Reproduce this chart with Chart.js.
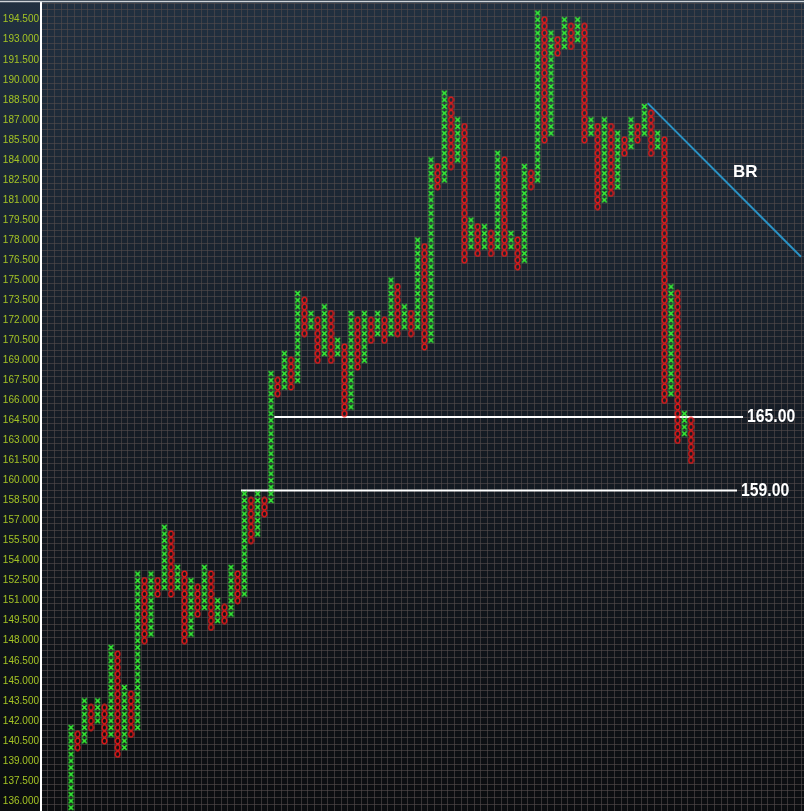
<!DOCTYPE html>
<html>
<head>
<meta charset="utf-8">
<script src="https://cdn.jsdelivr.net/npm/chart.js@4"></script>
<style>
  html, body { margin: 0; padding: 0; background: #0c0f13; }
  #pf { display: block; }
</style>
</head>
<body>
<canvas id="pf" width="804" height="811"></canvas>
<script>
// Point & figure columns (box size 0.5) left to right
const colTypes = [
    'X','O','X','O','X','O','X','O','X','O',
    'X','O','X','O','X','O','X','O','X','O',
    'X','O','X','O','X','O','X','O','X','O',
    'X','O','X','O','X','O','X','O','X','O',
    'X','O','X','O','X','O','X','O','X','O',
    'X','O','X','O','X','O','X','O','X','O',
    'X','O','X','O','X','O','X','O','X','O',
    'X','O','X','O','X','O','X','O','X','O',
    'X','O','X','O','X','O','X','O','X','O',
    'X','O','X','O'
];
const colHigh = [
    141.5, 141, 143.5, 143, 143.5, 143, 147.5, 147, 144.5, 144,
    153, 152.5, 153, 152.5, 156.5, 156, 153.5, 153, 152.5, 152,
    153.5, 153, 151, 150.5, 153.5, 153, 159, 158.5, 159, 158.5,
    168, 167.5, 169.5, 169, 174, 173.5, 172.5, 172, 173, 172.5,
    170.5, 170, 172.5, 172, 172.5, 172, 172.5, 172, 175, 174.5,
    173, 172.5, 178, 177.5, 184, 183.5, 189, 188.5, 187, 186.5,
    179.5, 179, 179, 178.5, 184.5, 184, 178.5, 178, 183.5, 183,
    195, 194.5, 193.5, 193, 194.5, 194, 194.5, 194, 187, 186.5,
    187, 186.5, 186, 185.5, 187, 186.5, 188, 187.5, 186, 185.5,
    174.5, 174, 165, 164.5
];
const colLow = [
    135.5, 140, 140.5, 141.5, 142, 140.5, 141, 139.5, 140, 141,
    141.5, 148, 148.5, 151.5, 152, 151.5, 152, 148, 148.5, 150,
    150.5, 149, 149.5, 149.5, 150, 151, 151.5, 155.5, 156, 157.5,
    158.5, 166.5, 167, 167, 167.5, 171, 171.5, 169, 169.5, 169,
    169.5, 165, 165.5, 168.5, 169, 170.5, 171, 170.5, 171, 171,
    171.5, 171, 171.5, 170, 170.5, 182, 182.5, 183.5, 184, 176.5,
    177.5, 177, 177.5, 177, 177.5, 177, 177.5, 176, 176.5, 182,
    182.5, 185.5, 186, 192, 192.5, 192.5, 193, 185.5, 186, 180.5,
    181, 181.5, 182, 184.5, 185, 185.5, 186, 184.5, 185, 166,
    166.5, 163, 163.5, 161.5
];
const boxSize = 0.5;

// price axis labels
const priceTicks = [
    136, 137.5, 139, 140.5, 142, 143.5, 145, 146.5, 148, 149.5,
    151, 152.5, 154, 155.5, 157, 158.5, 160, 161.5, 163, 164.5,
    166, 167.5, 169, 170.5, 172, 173.5, 175, 176.5, 178, 179.5,
    181, 182.5, 184, 185.5, 187, 188.5, 190, 191.5, 193, 194.5
];

// horizontal levels drawn on the chart
const levelY = [164.75, 159.25];
const levelText = ['165.00', '159.00'];
const levelFrom = [31.5, 26.5];
const levelTo = [101.8, 100.9];

// BR trendline (45 degree, one box per column)
const trendX = [87.5, 110.5];
const trendY = [188.25, 176.75];

const X_MIN = -3.5, X_MAX = 110.95;
const Y_MIN = 135.25, Y_MAX = 195.75;

// build the box points
const xPts = [];
const oPts = [];
colTypes.forEach((t, i) => {
    for (let v = colLow[i]; v <= colHigh[i] + 1e-9; v += boxSize) {
        const p = { x: i + 1, y: v };
        if (t === 'X') xPts.push(p); else oPts.push(p);
    }
});

// glyphs
function makeX() {
    const c = document.createElement('canvas');
    c.width = 7; c.height = 7;
    const g = c.getContext('2d');
    g.strokeStyle = '#36ee36';
    g.lineWidth = 1.5;
    g.beginPath();
    g.moveTo(1.1, 1.1); g.lineTo(5.9, 5.9);
    g.moveTo(5.9, 1.1); g.lineTo(1.1, 5.9);
    g.stroke();
    return c;
}
function makeO() {
    const c = document.createElement('canvas');
    c.width = 7; c.height = 8;
    const g = c.getContext('2d');
    g.strokeStyle = '#f41818';
    g.lineWidth = 1.4;
    g.beginPath();
    g.ellipse(3.5, 4, 2.3, 2.9, 0, 0, Math.PI * 2);
    g.stroke();
    return c;
}

function boundaries(min, max, step) {
    const out = [];
    for (let v = min; v <= max + 1e-9; v += step) out.push({ value: v });
    return out;
}

const bgPlugin = {
    id: 'bg',
    beforeDraw(chart) {
        const ctx = chart.ctx;
        const g = ctx.createLinearGradient(0, 0, 0, chart.height);
        g.addColorStop(0, '#213040');
        g.addColorStop(0.5, '#161d26');
        g.addColorStop(1, '#0b0d10');
        ctx.save();
        ctx.fillStyle = g;
        ctx.fillRect(0, 0, chart.width, chart.height);
        ctx.restore();
    },
    afterDraw(chart) {
        const ctx = chart.ctx;
        ctx.save();
        ctx.strokeStyle = '#cfd4d8';
        ctx.lineWidth = 1.5;
        ctx.beginPath();
        ctx.moveTo(0, 1.5);
        ctx.lineTo(chart.width, 1.5);
        ctx.stroke();
        ctx.restore();
    }
};

const textPlugin = {
    id: 'texts',
    afterDatasetsDraw(chart) {
        const ctx = chart.ctx;
        const xs = chart.scales.x, ys = chart.scales.y;
        ctx.save();
        ctx.fillStyle = '#ffffff';
        ctx.textBaseline = 'middle';
        ctx.textAlign = 'left';
        ctx.font = "bold 19px 'Liberation Sans', Arial, sans-serif";
        levelY.forEach((v, i) => {
            const px = xs.getPixelForValue(levelTo[i]) + 4;
            const py = ys.getPixelForValue(v);
            ctx.save();
            ctx.translate(px, py);
            ctx.scale(0.83, 1);
            ctx.fillText(levelText[i], 0, 0);
            ctx.restore();
        });
        ctx.font = "bold 17px 'Liberation Sans', Arial, sans-serif";
        ctx.fillText('BR', xs.getPixelForValue(100.3), ys.getPixelForValue(183.1));
        ctx.restore();
    }
};

const datasets = [
    {
        type: 'scatter',
        data: xPts,
        pointStyle: makeX(),
        pointRadius: 3,
        showLine: false
    },
    {
        type: 'scatter',
        data: oPts,
        pointStyle: makeO(),
        pointRadius: 3,
        showLine: false
    }
];
levelY.forEach((v, i) => {
    datasets.push({
        type: 'line',
        data: [{ x: levelFrom[i], y: v }, { x: levelTo[i], y: v }],
        borderColor: '#ffffff',
        borderWidth: 2,
        pointRadius: 0
    });
});
datasets.push({
    type: 'line',
    data: trendX.map((x, i) => ({ x: x, y: trendY[i] })),
    borderColor: '#2a92c4',
    borderWidth: 2,
    pointRadius: 0
});

const gridColor = 'rgba(84, 76, 76, 0.62)';

new Chart(document.getElementById('pf'), {
    type: 'scatter',
    data: { datasets: datasets },
    options: {
        responsive: false,
        animation: false,
        devicePixelRatio: 1,
        layout: { autoPadding: false, padding: { top: 3, right: 0, bottom: 0, left: 0 } },
        plugins: {
            legend: { display: false },
            tooltip: { enabled: false }
        },
        scales: {
            x: {
                type: 'linear',
                min: X_MIN,
                max: X_MAX,
                afterBuildTicks: s => { s.ticks = boundaries(X_MIN, X_MAX, 1); },
                afterFit: s => { s.height = 0; s.paddingLeft = 0; s.paddingRight = 0; },
                ticks: { display: false },
                grid: { color: gridColor, lineWidth: 1, drawTicks: false },
                border: { display: false }
            },
            y: {
                type: 'linear',
                position: 'right',
                min: Y_MIN,
                max: Y_MAX,
                afterBuildTicks: s => { s.ticks = boundaries(Y_MIN, Y_MAX, boxSize); },
                afterFit: s => { s.width = 0; s.paddingTop = 0; s.paddingBottom = 0; },
                ticks: { display: false },
                grid: { color: gridColor, lineWidth: 1, drawTicks: false },
                border: { display: false }
            },
            yL: {
                type: 'linear',
                position: 'left',
                min: Y_MIN,
                max: Y_MAX,
                afterBuildTicks: s => { s.ticks = priceTicks.map(v => ({ value: v })); },
                afterFit: s => { s.width = 41; s.paddingTop = 0; s.paddingBottom = 0; },
                ticks: {
                    color: '#a4c424',
                    padding: 2,
                    font: { family: "'Liberation Sans', Arial, sans-serif", size: 10 },
                    callback: v => v.toFixed(3)
                },
                grid: { display: false, drawTicks: false },
                border: { display: true, color: '#ffffff', width: 2 }
            }
        }
    },
    plugins: [bgPlugin, textPlugin]
});
</script>
</body>
</html>
